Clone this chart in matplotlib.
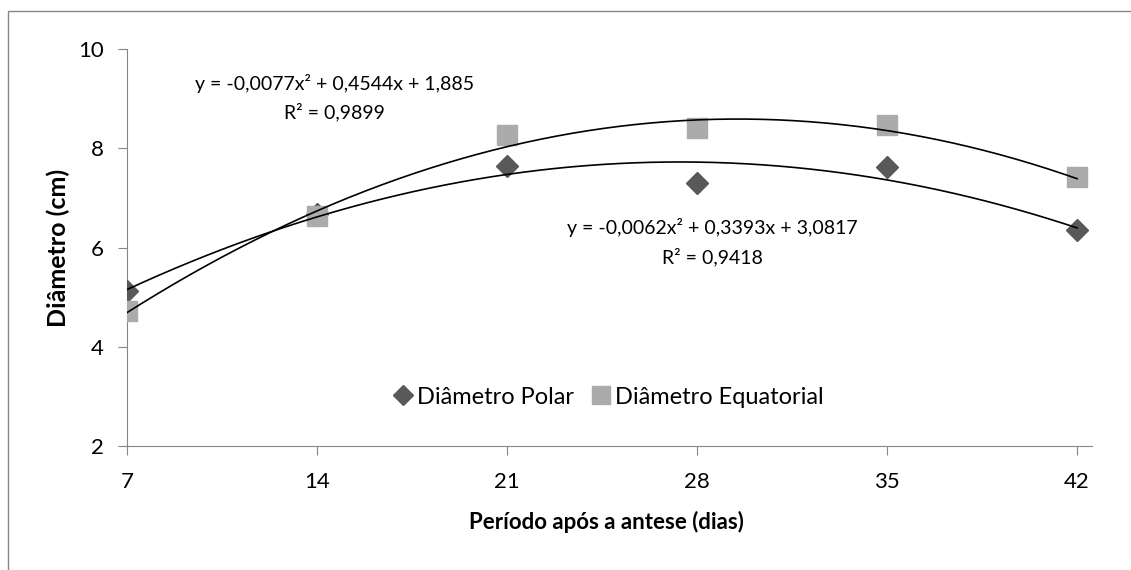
import numpy as np
import matplotlib.pyplot as plt
from matplotlib.patches import Rectangle

plt.rcParams['font.family'] = ['Lato', 'DejaVu Sans']

# dados
dias = np.array([7, 14, 21, 28, 35, 42])
polar = np.array([5.12, 6.68, 7.65, 7.31, 7.63, 6.35])
equatorial = np.array([4.72, 6.63, 8.26, 8.41, 8.46, 7.43])

# coeficientes das linhas de tendência (polinomial de ordem 2)
coef_polar = [-0.0062, 0.3393, 3.0817]
coef_equat = [-0.0077, 0.4544, 1.885]
eq_polar = "y = -0,0062x² + 0,3393x + 3,0817\nR² = 0,9418"
eq_equat = "y = -0,0077x² + 0,4544x + 1,885\nR² = 0,9899"

cinza_eixo = '#868686'

fig = plt.figure(figsize=(11.31, 5.70), dpi=100)
ax = fig.add_axes([0.1123, 0.2175, 0.8532, 0.6965])

# moldura do gráfico (cortada à direita e embaixo)
fig.patches.append(Rectangle((8 / 1131, -0.2), 1.2, 1.2 - 11 / 570,
                             transform=fig.transFigure, fill=False,
                             edgecolor=cinza_eixo, lw=1))

ax.plot(dias, polar, 'D', color='#595959', ms=11, label='Diâmetro Polar', zorder=3)
ax.plot(dias, equatorial, 's', color='#ababab', ms=14, label='Diâmetro Equatorial', zorder=3)

xs = np.linspace(dias.min(), dias.max(), 300)
ax.plot(xs, np.polyval(coef_polar, xs), color='black', lw=1.2, zorder=4)
ax.plot(xs, np.polyval(coef_equat, xs), color='black', lw=1.2, zorder=4)

ax.text(14.66, 9.02, eq_equat, ha='center', va='center', fontsize=14, linespacing=1.65)
ax.text(28.55, 6.11, eq_polar, ha='center', va='center', fontsize=14, linespacing=1.65)

ax.set_xlim(7, 42.55)
ax.set_ylim(2, 10)
ax.set_xticks(dias)
ax.set_yticks([2, 4, 6, 8, 10])

for s in ['top', 'right']:
    ax.spines[s].set_visible(False)
for s in ['left', 'bottom']:
    ax.spines[s].set_color(cinza_eixo)
ax.tick_params(colors=cinza_eixo, labelcolor='black', labelsize=16, length=6.5)
ax.tick_params(axis='x', pad=12)
ax.tick_params(axis='y', pad=10)

ax.set_xlabel('Período após a antese (dias)', fontsize=16, fontweight='bold', va='center')
ax.xaxis.set_label_coords(0.497, -0.191)
ax.set_ylabel('Diâmetro (cm)', fontsize=18, fontweight='bold', va='center')
ax.yaxis.set_label_coords(-0.0715, 0.5)

ax.legend(loc='center', bbox_to_anchor=(0.497, 0.123), frameon=False, fontsize=17,
          handletextpad=0.05, columnspacing=0.6, ncol=2, handlelength=1.1, markerscale=0.9)

fig.savefig('out.png', dpi=100)
